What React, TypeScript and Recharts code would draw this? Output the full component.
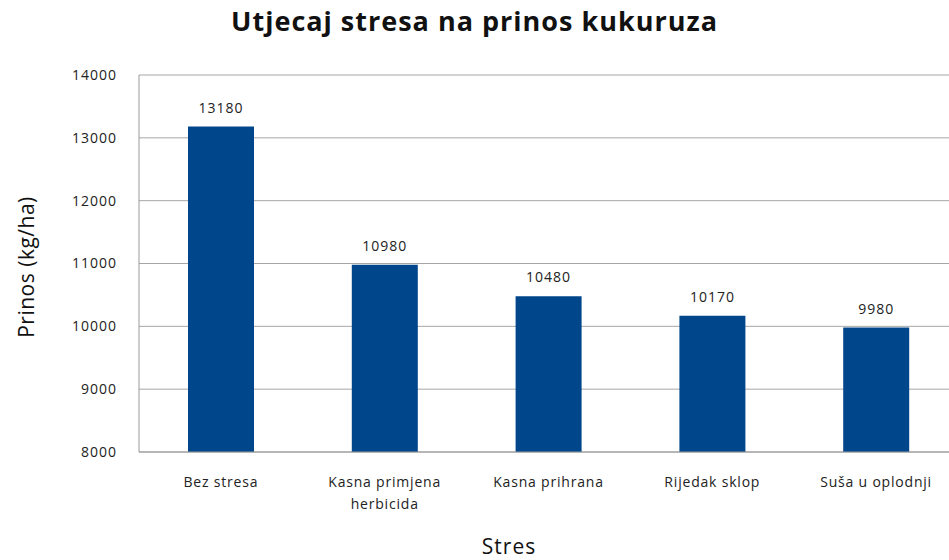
import { BarChart, Bar, XAxis, YAxis, CartesianGrid, LabelList, Text } from 'recharts'

const categories = ['Bez stresa', 'Kasna primjena herbicida', 'Kasna prihrana', 'Rijedak sklop', 'Suša u oplodnji']
const yields = [13180, 10980, 10480, 10170, 9980]
const yTicks = [8000, 9000, 10000, 11000, 12000, 13000, 14000]

const data = categories.map((name, i) => ({ name, prinos: yields[i] }))

const font = '"Open Sans", "DejaVu Sans", sans-serif'

function CategoryTick({ x, y, payload }: any) {
  return (
    <Text
      x={x}
      y={y + 17}
      width={140}
      textAnchor="middle"
      verticalAnchor="start"
      lineHeight={22}
      fontSize={14}
      fontFamily={font}
      letterSpacing={0.8}
      fill="#222"
    >
      {payload.value}
    </Text>
  )
}

export default function App() {
  return (
    <div style={{ position: 'absolute', left: 0, top: 0, width: 949, height: 560, overflow: 'hidden', background: '#fff', fontFamily: font }}>
      <div style={{ position: 'absolute', left: 0, width: 949, top: 2, textAlign: 'center', fontSize: 27, fontWeight: 700, letterSpacing: 1, color: '#111' }}>
        Utjecaj stresa na prinos kukuruza
      </div>
      <div style={{ position: 'absolute', left: 26, top: 267, transform: 'translate(-50%, -50%) rotate(-90deg)', fontSize: 21, letterSpacing: 0.5, color: '#111', whiteSpace: 'nowrap' }}>
        Prinos (kg/ha)
      </div>
      <div style={{ position: 'absolute', left: 509, top: 546, transform: 'translate(-50%, -50%)', fontSize: 21, lineHeight: '22px', letterSpacing: 1, color: '#111' }}>
        Stres
      </div>
      <BarChart
        width={970}
        height={560}
        data={data}
        margin={{ top: 75, right: 12, left: 79, bottom: 48 }}
        style={{ position: 'absolute', left: 0, top: 0 }}
      >
        <CartesianGrid vertical={false} stroke="#a6a6a6" />
        <XAxis
          dataKey="name"
          height={60}
          tickLine={false}
          axisLine={{ stroke: '#999' }}
          interval={0}
          tick={<CategoryTick />}
        />
        <YAxis
          width={60}
          domain={[8000, 14000]}
          ticks={yTicks}
          tickLine={false}
          axisLine={{ stroke: '#999' }}
          tickMargin={16}
          tick={{ fill: '#222', fontSize: 14, fontFamily: font, letterSpacing: 1 }}
        />
        <Bar dataKey="prinos" fill="#00468b" barSize={66} isAnimationActive={false}>
          <LabelList dataKey="prinos" position="top" offset={14} fill="#222" fontSize={14} fontFamily={font} letterSpacing={1} />
        </Bar>
      </BarChart>
    </div>
  )
}
